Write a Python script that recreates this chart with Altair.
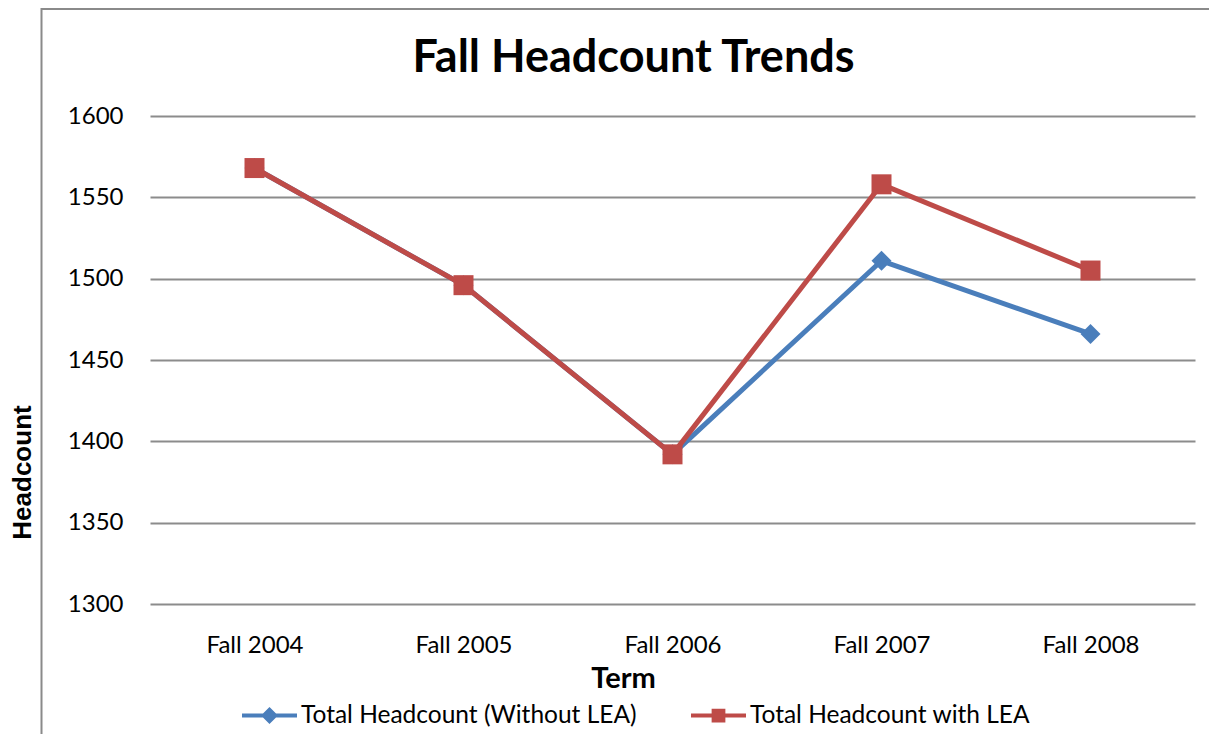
import altair as alt
import pandas as pd

terms = ["Fall 2004", "Fall 2005", "Fall 2006", "Fall 2007", "Fall 2008"]
without_lea = [1568, 1496, 1392, 1511, 1466]
with_lea = [1568, 1496, 1392, 1558, 1505]
series_names = ["Total Headcount (Without LEA)", "Total Headcount with LEA"]
series_colors = ["#4A7EBB", "#BE4B48"]
y_ticks = [1300, 1350, 1400, 1450, 1500, 1550, 1600]

rows = []
for t, v in zip(terms, without_lea):
    rows.append({"term": t, "headcount": v, "series": series_names[0]})
for t, v in zip(terms, with_lea):
    rows.append({"term": t, "headcount": v, "series": series_names[1]})
df = pd.DataFrame(rows)

FONT = "Lato"
W, H = 1045, 488

x_enc = alt.X(
    "term:N",
    sort=terms,
    axis=alt.Axis(
        title="Term",
        labelFont=FONT,
        labelFontSize=24,
        labelColor="black",
        labelAngle=0,
        labelPadding=29,
        ticks=False,
        tickSize=0,
        domain=False,
        grid=False,
        titleFont=FONT,
        titleFontSize=29,
        titleFontWeight="bold",
        titleColor="black",
        titleX=473,
        titleY=83,
        titleAlign="center",
        titleBaseline="alphabetic",
    ),
)
y_enc = alt.Y(
    "headcount:Q",
    scale=alt.Scale(domain=[1300, 1600], nice=False, zero=False),
    axis=alt.Axis(
        title="Headcount",
        values=y_ticks,
        format="d",
        labelFont=FONT,
        labelFontSize=24,
        labelColor="black",
        labelPadding=27,
        ticks=False,
        tickSize=0,
        domain=False,
        grid=True,
        gridColor="#8c8c8c",
        gridWidth=2,
        titleFont="Liberation Sans",
        titleFontSize=26,
        titleFontWeight="bold",
        titleColor="black",
        titleX=-120,
        titleY=356,
        titleAlign="center",
        titleBaseline="alphabetic",
    ),
)
color_enc = alt.Color(
    "series:N",
    scale=alt.Scale(domain=series_names, range=series_colors),
    legend=None,
)

frame = alt.Chart(alt.Data(values=[{"k": 1}])).mark_rect(
    filled=False, stroke="#8a8a8a", strokeWidth=2
).encode(
    x=alt.value(-108.5), x2=alt.value(W + 200),
    y=alt.value(-107), y2=alt.value(H + 300),
)

lines = alt.Chart(df).mark_line(strokeWidth=5).encode(
    x=x_enc, y=y_enc, color=color_enc
)

markers = alt.Chart(df).mark_point(filled=True, opacity=1, size=400).encode(
    x=x_enc,
    y=y_enc,
    color=color_enc,
    shape=alt.Shape(
        "series:N",
        scale=alt.Scale(domain=series_names, range=["diamond", "square"]),
        legend=None,
    ),
)

legend_diamond = "M-1,-0.07H1V0.07H-1Z M0,-0.31L0.31,0L0,0.31L-0.31,0Z"
legend_square = "M-1,-0.07H1V0.07H-1Z M-0.25,-0.25H0.25V0.25H-0.25Z"
legend_spec = alt.Legend(
    title=None,
    orient="none",
    legendX=92,
    legendY=572,
    direction="horizontal",
    symbolSize=3025,
    symbolOpacity=1,
    symbolStrokeWidth=0,
    labelFont=FONT,
    labelFontSize=24.5,
    labelColor="black",
    labelOffset=4,
    labelLimit=600,
    columnPadding=54,
    padding=0,
)
legend_layer = alt.Chart(df).transform_filter("false").mark_point(
    filled=True, opacity=1
).encode(
    fill=alt.Fill(
        "series:N",
        scale=alt.Scale(domain=series_names, range=series_colors),
        legend=legend_spec,
    ),
    shape=alt.Shape(
        "series:N",
        scale=alt.Scale(domain=series_names, range=[legend_diamond, legend_square]),
        legend=legend_spec,
    ),
)

chart = alt.layer(frame, lines, markers, legend_layer).resolve_scale(
    shape="independent", fill="independent"
).resolve_legend(
    shape="independent", fill="independent"
).properties(
    width=W,
    height=H,
    autosize="none",
    padding={"left": 142, "top": 108, "right": 14, "bottom": 130},
    background="white",
    title=alt.TitleParams(
        text="Fall Headcount Trends",
        font=FONT,
        fontSize=45,
        fontWeight="bold",
        color="black",
        anchor="middle",
        dx=-39,
        dy=77,
    ),
).configure_view(stroke=None)

chart.save("out.html", embed_options={"renderer": "svg", "actions": False})
